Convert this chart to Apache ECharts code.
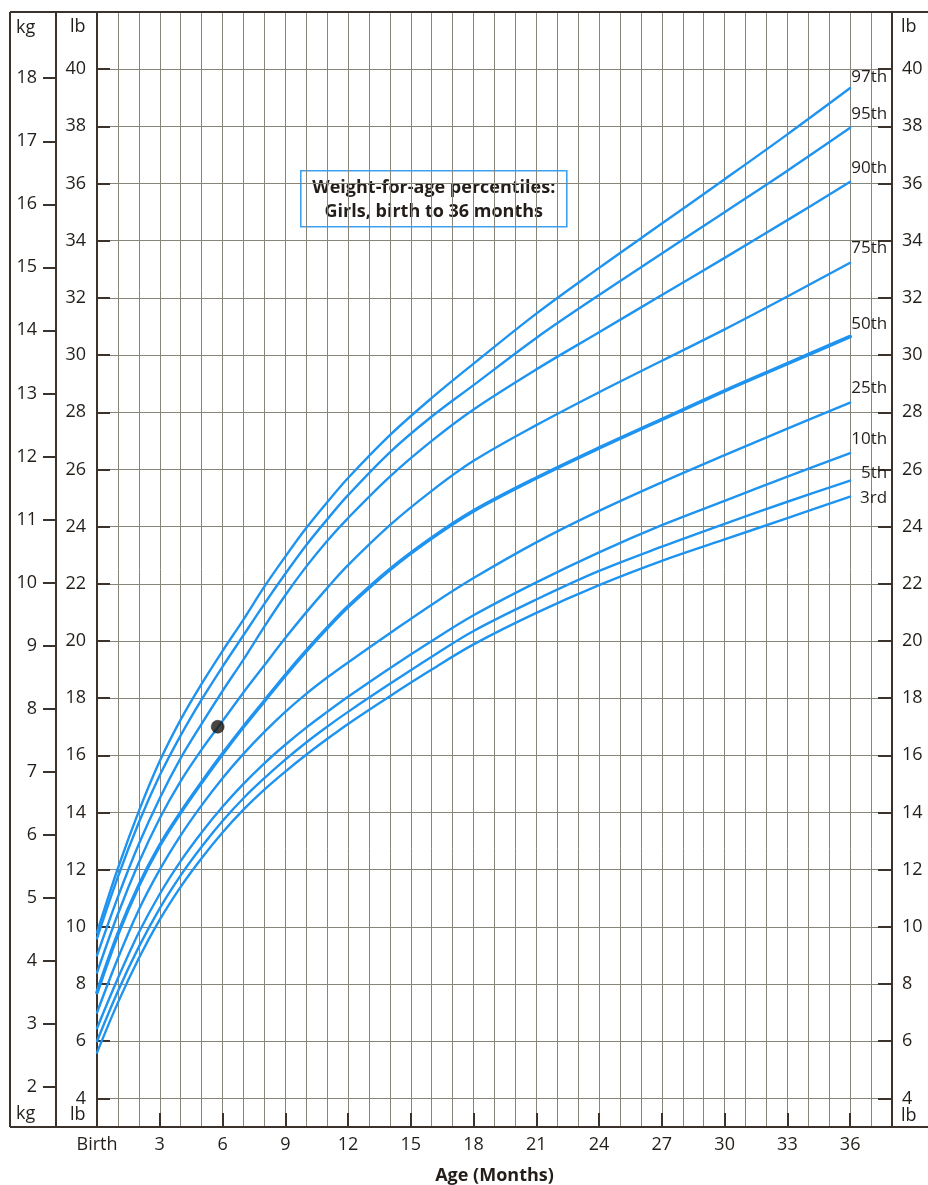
<!DOCTYPE html>
<html>
<head>
<meta charset="utf-8">
<script src="https://cdn.jsdelivr.net/npm/echarts@6/dist/echarts.min.js"></script>
<style>
html, body { margin: 0; padding: 0; background: #ffffff; }
#chart { width: 928px; height: 1185px; }
</style>
</head>
<body>
<div id="chart"></div>
<script>
// Age in months at which each percentile curve is sampled
const months = [0, 1, 2, 3, 4, 5, 6, 7, 8, 9, 10, 11, 12, 14, 16, 18, 21, 24, 27, 30, 33, 36];

// Weight (lb) for each percentile at the ages above
const p97 = [9.8, 12.05, 14.05, 15.8, 17.25, 18.5, 19.65, 20.75, 21.9, 22.95, 23.95, 24.85, 25.7, 27.2, 28.5, 29.7, 31.45, 33.05, 34.6, 36.15, 37.72, 39.34];
const p95 = [9.6, 11.75, 13.65, 15.3, 16.7, 17.95, 19.1, 20.2, 21.3, 22.35, 23.35, 24.25, 25.1, 26.6, 27.85, 28.95, 30.6, 32.1, 33.55, 35.0, 36.45, 37.95];
const p90 = [9.0, 11.05, 12.9, 14.5, 15.9, 17.1, 18.25, 19.35, 20.5, 21.6, 22.6, 23.5, 24.3, 25.75, 27.0, 28.1, 29.5, 30.8, 32.1, 33.4, 34.72, 36.06];
const p75 = [8.4, 10.45, 12.25, 13.8, 15.1, 16.2, 17.2, 18.2, 19.15, 20.1, 21.0, 21.85, 22.65, 24.05, 25.25, 26.3, 27.55, 28.7, 29.8, 30.9, 32.05, 33.23];
const p50 = [7.7, 9.75, 11.45, 12.85, 14.0, 15.05, 16.05, 17.0, 17.9, 18.8, 19.65, 20.45, 21.2, 22.5, 23.6, 24.55, 25.7, 26.75, 27.75, 28.75, 29.7, 30.65];
const p25 = [7.0, 8.9, 10.6, 12.0, 13.2, 14.25, 15.2, 16.05, 16.82, 17.52, 18.15, 18.72, 19.25, 20.27, 21.27, 22.2, 23.45, 24.55, 25.55, 26.5, 27.43, 28.34];
const p10 = [6.45, 8.2, 9.8, 11.15, 12.3, 13.3, 14.2, 15.0, 15.72, 16.37, 16.97, 17.52, 18.05, 19.05, 20.0, 20.9, 22.05, 23.1, 24.05, 24.9, 25.75, 26.57];
const p5 = [6.0, 7.75, 9.3, 10.65, 11.8, 12.8, 13.7, 14.5, 15.2, 15.85, 16.45, 17.0, 17.52, 18.5, 19.45, 20.35, 21.45, 22.45, 23.3, 24.1, 24.87, 25.61];
const p3 = [5.6, 7.35, 8.9, 10.25, 11.4, 12.4, 13.3, 14.1, 14.8, 15.43, 16.02, 16.57, 17.1, 18.07, 19.0, 19.88, 20.98, 21.95, 22.8, 23.55, 24.3, 25.05];

const percentileNames = ['97th', '95th', '90th', '75th', '50th', '25th', '10th', '5th', '3rd'];
const percentileValues = [p97, p95, p90, p75, p50, p25, p10, p5, p3];

// Plotted child: age (months), weight (lb)
const childPoint = [5.77, 17.0];

// Tick values
const monthTicks = [0, 3, 6, 9, 12, 15, 18, 21, 24, 27, 30, 33, 36];
const lbTicks = [4, 6, 8, 10, 12, 14, 16, 18, 20, 22, 24, 26, 28, 30, 32, 34, 36, 38, 40];
const kgTicks = [2, 3, 4, 5, 6, 7, 8, 9, 10, 11, 12, 13, 14, 15, 16, 17, 18];

const LB_PER_KG = 2.20462;
const LB_MIN = 3, LB_MAX = 42;
const MONTH_MIN = 0, MONTH_MAX = 38;

const FONT = '"Open Sans", "DejaVu Sans", sans-serif';
const INK = '#231e19';
const FRAME = '#3a322b';
const GRID = '#87857a';
const CURVE = '#1e94f0';

// vertical nudge of each curve label above its end point
const labelShift = [-11, -14, -14, -15, -12, -14, -14, -7, 2];

const chart = echarts.init(document.getElementById('chart'), null, { renderer: 'canvas' });

const G = { left: 97, top: 12, width: 795, height: 1115 };
const plotBottom = G.top + G.height;

const curveSeries = percentileNames.map((name, i) => ({
  type: 'line',
  name: name,
  xAxisIndex: 0,
  yAxisIndex: 0,
  data: months.map((m, j) => [m, percentileValues[i][j]]),
  smooth: 0.35,
  showSymbol: false,
  symbol: 'none',
  silent: true,
  z: 3,
  lineStyle: { color: CURVE, width: name === '50th' ? 3.6 : 2.4, cap: 'round' },
  endLabel: {
    show: true,
    formatter: name,
    align: 'right',
    verticalAlign: 'middle',
    distance: 0,
    offset: [37, labelShift[i]],
    fontFamily: FONT,
    fontSize: 17,
    color: INK
  }
}));

const option = {
  animation: false,
  backgroundColor: '#ffffff',
  grid: {
    left: G.left, top: G.top, width: G.width, height: G.height,
    containLabel: false, outerBoundsMode: 'none'
  },
  xAxis: [
    {
      type: 'value', min: MONTH_MIN, max: MONTH_MAX, interval: 1,
      position: 'bottom',
      axisLine: { show: false, onZero: false },
      axisTick: { show: false },
      axisLabel: { show: false },
      splitLine: { show: true, lineStyle: { color: GRID, width: 1 } }
    },
    {
      type: 'value', min: MONTH_MIN, max: MONTH_MAX,
      position: 'bottom',
      axisLine: { show: true, onZero: false, lineStyle: { color: FRAME, width: 2 } },
      axisTick: { show: true, inside: true, length: 14, customValues: monthTicks, lineStyle: { color: FRAME, width: 2 } },
      axisLabel: {
        show: true, customValues: monthTicks, margin: 9,
        formatter: v => (v === 0 ? 'Birth' : String(v)),
        fontFamily: FONT, fontSize: 18, color: INK
      },
      splitLine: { show: false },
      name: 'Age (Months)',
      nameLocation: 'middle',
      nameGap: 40,
      nameTextStyle: { fontFamily: FONT, fontSize: 18, fontWeight: 'bold', color: INK }
    }
  ],
  yAxis: [
    {
      type: 'value', min: LB_MIN, max: LB_MAX, interval: 1,
      position: 'left',
      axisLine: { show: true, onZero: false, lineStyle: { color: FRAME, width: 2 } },
      axisTick: { show: true, inside: true, length: 13, customValues: lbTicks, lineStyle: { color: FRAME, width: 2 } },
      axisLabel: { show: true, customValues: lbTicks, margin: 11, fontFamily: FONT, fontSize: 18, color: INK },
      splitLine: { show: true, lineStyle: { color: GRID, width: 1 } }
    },
    {
      type: 'value', min: LB_MIN / LB_PER_KG, max: LB_MAX / LB_PER_KG,
      position: 'left', offset: 41,
      axisLine: { show: true, onZero: false, lineStyle: { color: FRAME, width: 2 } },
      axisTick: { show: true, inside: false, length: 13, customValues: kgTicks, lineStyle: { color: FRAME, width: 2 } },
      axisLabel: { show: true, customValues: kgTicks, margin: 19, fontFamily: FONT, fontSize: 18, color: INK },
      splitLine: { show: false }
    },
    {
      type: 'value', min: LB_MIN, max: LB_MAX,
      position: 'right',
      axisLine: { show: true, onZero: false, lineStyle: { color: FRAME, width: 2 } },
      axisTick: { show: true, inside: true, length: 14, customValues: lbTicks, lineStyle: { color: FRAME, width: 2 } },
      axisLabel: { show: true, customValues: lbTicks, margin: 10, fontFamily: FONT, fontSize: 18, color: INK },
      splitLine: { show: false }
    }
  ],
  series: curveSeries.concat([
    {
      type: 'scatter',
      xAxisIndex: 0,
      yAxisIndex: 0,
      data: [childPoint],
      symbol: 'circle',
      symbolSize: 13,
      silent: true,
      z: 5,
      itemStyle: { color: '#1b1612', borderColor: '#000000', borderWidth: 0.5 }
    }
  ]),
  graphic: [
    // outer frame
    { type: 'line', z: 10, shape: { x1: 10, y1: G.top, x2: 928, y2: G.top }, style: { stroke: FRAME, lineWidth: 2 } },
    { type: 'line', z: 10, shape: { x1: 10, y1: plotBottom, x2: 928, y2: plotBottom }, style: { stroke: FRAME, lineWidth: 2 } },
    { type: 'line', z: 10, shape: { x1: 10, y1: G.top, x2: 10, y2: plotBottom }, style: { stroke: FRAME, lineWidth: 2 } },
    // unit captions
    { type: 'text', z: 10, left: 16, top: 19, style: { text: 'kg', font: '18px ' + FONT, fill: INK } },
    { type: 'text', z: 10, left: 70, top: 18, style: { text: 'lb', font: '18px ' + FONT, fill: INK } },
    { type: 'text', z: 10, left: 901, top: 18, style: { text: 'lb', font: '18px ' + FONT, fill: INK } },
    { type: 'text', z: 10, left: 16, top: 1105, style: { text: 'kg', font: '18px ' + FONT, fill: INK } },
    { type: 'text', z: 10, left: 70, top: 1106, style: { text: 'lb', font: '18px ' + FONT, fill: INK } },
    { type: 'text', z: 10, left: 901, top: 1107, style: { text: 'lb', font: '18px ' + FONT, fill: INK } },
    // chart title box
    {
      type: 'group', left: 300, top: 170, z: 10,
      children: [
        { type: 'rect', shape: { x: 0, y: 0, width: 266, height: 56 }, style: { fill: '#ffffff', stroke: '#3ea2f3', lineWidth: 1.6 } },
        {
          type: 'text', x: 133, y: 29,
          style: {
            text: 'Weight-for-age percentiles:\nGirls, birth to 36 months',
            font: 'bold 18px ' + FONT, fill: INK,
            align: 'center', verticalAlign: 'middle', lineHeight: 24
          }
        }
      ]
    }
  ]
};

chart.setOption(option);
</script>
</body>
</html>
